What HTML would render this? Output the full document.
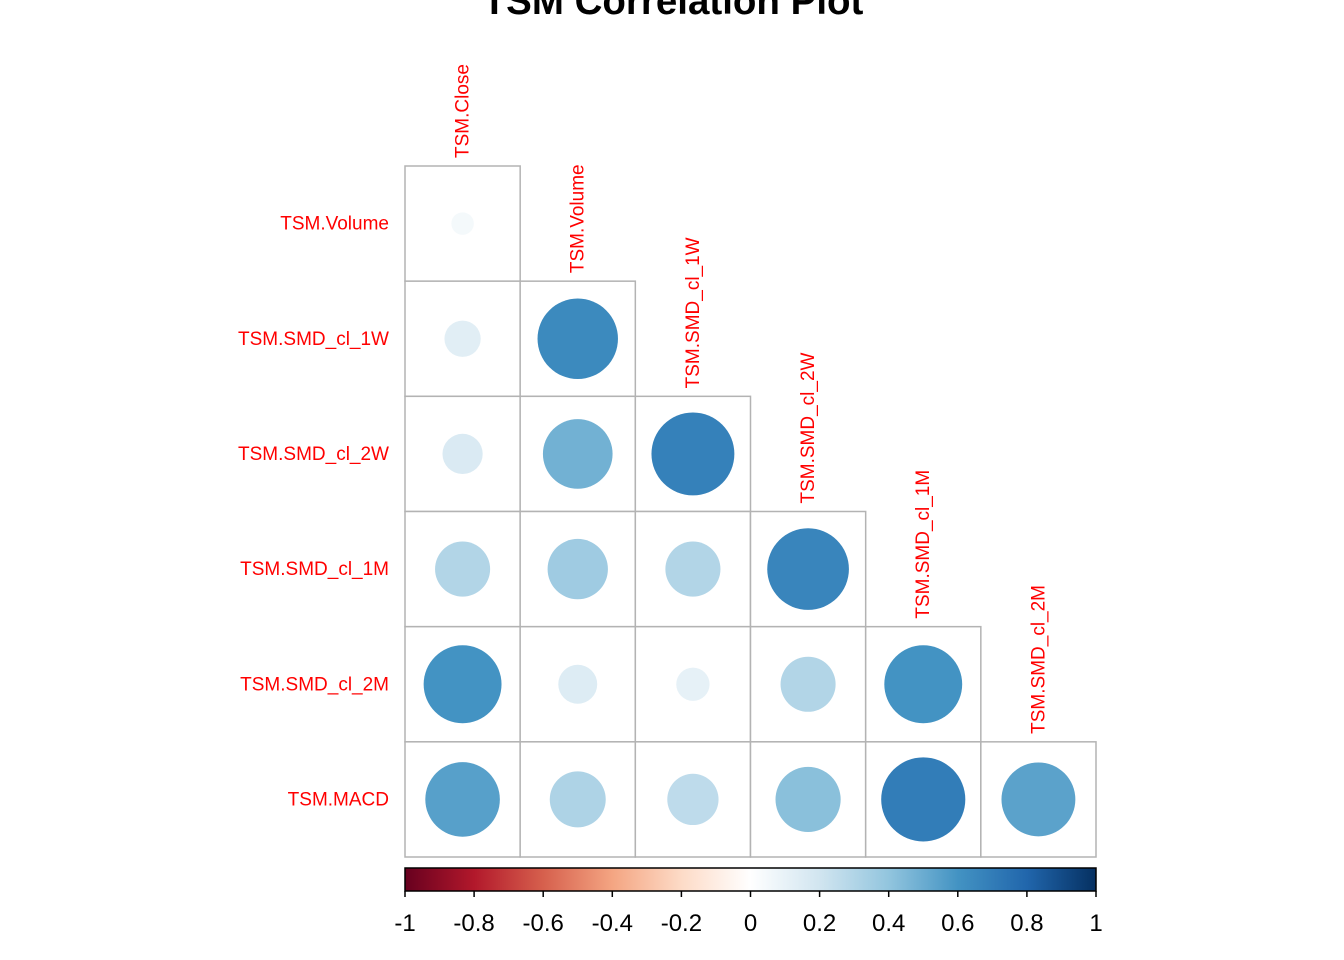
<!DOCTYPE html>
<html><head><meta charset="utf-8"><style>
body{margin:0;background:#fff}
svg{display:block;font-family:"Liberation Sans",Arial,sans-serif}
</style></head><body>
<svg id="c" width="1344" height="960">
<text x="673" y="14" text-anchor="middle" font-size="38.5" font-weight="bold">TSM Correlation Plot</text>
</svg>
<script>
const vars = ["TSM.Close","TSM.Volume","TSM.SMD_cl_1W","TSM.SMD_cl_2W","TSM.SMD_cl_1M","TSM.SMD_cl_2M","TSM.MACD"];
// lower-triangle correlations: row i (1..6) vs columns 0..i-1
const corrRows = [
  [0.05],
  [0.13,0.64],
  [0.16,0.48,0.68],
  [0.30,0.36,0.30,0.66],
  [0.60,0.15,0.11,0.30,0.60],
  [0.55,0.31,0.26,0.42,0.70,0.54]
];
const tickLabels = ["-1","-0.8","-0.6","-0.4","-0.2","0","0.2","0.4","0.6","0.8","1"];
const stops = ["#67001F","#B2182B","#D6604D","#F4A582","#FDDBC7","#FFFFFF","#D1E5F0","#92C5DE","#4393C3","#2166AC","#053061"];

const NS="http://www.w3.org/2000/svg", svg=document.getElementById('c');
const X0=405, Y0=166, W=691, cell=W/6;
function hex(h){return [1,3,5].map(i=>parseInt(h.substr(i,2),16));}
function col(v){let t=(v+1)/2*10;let i=Math.min(9,Math.floor(t));let f=t-i;
 const a=hex(stops[i]),b=hex(stops[i+1]);
 return "rgb("+a.map((c,k)=>Math.round(c+(b[k]-c)*f)).join(",")+")";}
function el(tag,attrs,p){const e=document.createElementNS(NS,tag);for(const k in attrs)e.setAttribute(k,attrs[k]);(p||svg).appendChild(e);return e;}
const xs=j=>X0+j*cell, ys=i=>Y0+(i-1)*cell;

for(let i=1;i<=6;i++){
  const t=el('text',{x:389,y:ys(i)+cell/2+6,'text-anchor':'end','font-size':19,fill:'#FF0000'});
  t.textContent=vars[i];
  
  
  for(let j=0;j<i;j++){
    const v=corrRows[i-1][j];
    const r=el('rect',{x:xs(j),y:ys(i),width:cell,height:cell,fill:'#fff',stroke:'#b3b3b3','stroke-width':1.5});
    
    
    const c=el('circle',{cx:xs(j)+cell/2,cy:ys(i)+cell/2,r:0.45*Math.sqrt(Math.abs(v))*cell*0.97,fill:col(v)});
    
    
  }
}
for(let j=0;j<6;j++){
  const x=xs(j)+cell/2+6, y=ys(j+1)-8;
  const t=el('text',{x:x,y:y,transform:`rotate(-90 ${x} ${y})`,'font-size':19,fill:'#FF0000'});
  t.textContent=vars[j];
  
  
}
// colorbar
const g=el('defs',{});
const lg=el('linearGradient',{id:'gr',x1:0,x2:1,y1:0,y2:0},g);
stops.forEach((s,k)=>el('stop',{offset:k/10,'stop-color':s},lg));
const cb=el('rect',{x:X0,y:868,width:W,height:23,fill:'url(#gr)',stroke:'#000','stroke-width':1.5});


tickLabels.forEach((lab,k)=>{
  const x=X0+k*W/10;
  el('line',{x1:x,x2:x,y1:891,y2:897,stroke:'#000','stroke-width':1.5});
  const t=el('text',{x:x,y:931,'text-anchor':'middle','font-size':24});
  t.textContent=lab;
  
  
});
</script>
</body></html>
